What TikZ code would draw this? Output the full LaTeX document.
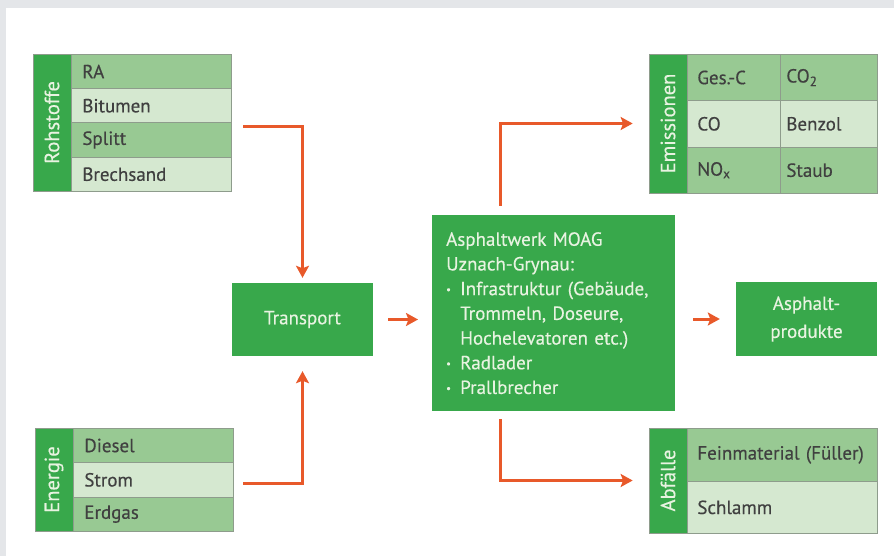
\documentclass[tikz,border=0pt]{standalone}
\usepackage{fontspec}
\setmainfont{PT Sans}[FakeBold=0.35]
\usetikzlibrary{arrows.meta}

\definecolor{framegray}{HTML}{E4E6E9}
\definecolor{deepgreen}{HTML}{38A84B}
\definecolor{midgreen}{HTML}{98C993}
\definecolor{palegreen}{HTML}{D5E8D0}
\definecolor{cellline}{HTML}{8E9C8C}
\definecolor{flow}{HTML}{E8592A}
\definecolor{boxtext}{HTML}{E8F3E1}
\definecolor{celltext}{HTML}{404040}

\begin{document}
\begin{tikzpicture}[x=1pt, y=-1pt,
    cell/.style={draw=cellline, line width=0.7pt, anchor=north west, inner ysep=0pt,
        inner xsep=11pt, align=left, text=celltext, font=\fontsize{19}{22}\selectfont},
    midcell/.style={cell, fill=midgreen},
    palecell/.style={cell, fill=palegreen},
    sidelabel/.style={draw=cellline, line width=0.7pt, fill=deepgreen, text=boxtext,
        rotate=90, inner sep=0pt, minimum height=38pt, font=\fontsize{20.5}{22}\selectfont},
    greenbox/.style={fill=deepgreen, text=boxtext, inner sep=0pt},
    flowarrow/.style={draw=flow, line width=3pt,
        -{Stealth[length=12pt, width=13pt, inset=2.5pt]}}
]
    % Define the row heights of the tables
    \def\rowR{34.25}  % Rohstoffe
    \def\rowE{34.33}  % Energie
    \def\rowM{46.33}  % Emissionen
    \def\wb{\makebox[14pt][l]{\raisebox{0.22ex}{\scalebox{0.55}{\textbullet}}}}  % bullet in the plant box

    % Frame and bounding box
    \useasboundingbox (0,0) rectangle (894,556);
    \fill[framegray] (0,0) rectangle (894,556);
    \fill[white] (6,8) rectangle (894,556);

    % Rohstoffe table
    \node[sidelabel, minimum width=137pt] (rohLabel) at (52,122.5) {Rohstoffe};
    \node[midcell, text width=138pt, minimum height=\rowR pt] (rohRA) at (71,54) {RA};
    \node[palecell, text width=138pt, minimum height=\rowR pt] (rohBitumen) at (71,54+\rowR) {Bitumen};
    \node[midcell, text width=138pt, minimum height=\rowR pt] (rohSplitt) at (71,54+2*\rowR) {Splitt};
    \node[palecell, text width=138pt, minimum height=\rowR pt] (rohBrechsand) at (71,54+3*\rowR) {Brechsand};

    % Energie table
    \node[sidelabel, minimum width=103pt] (enLabel) at (54,479.5) {Energie};
    \node[midcell, text width=138pt, minimum height=\rowE pt] (enDiesel) at (73,428) {Diesel};
    \node[palecell, text width=138pt, minimum height=\rowE pt] (enStrom) at (73,428+\rowE) {Strom};
    \node[midcell, text width=138pt, minimum height=\rowE pt] (enErdgas) at (73,428+2*\rowE) {Erdgas};

    % Transport and plant
    \node[greenbox, minimum width=141pt, minimum height=73pt, font=\fontsize{19}{22}\selectfont]
        (transport) at (302.5,319.5) {Transport};
    \node[greenbox, anchor=north west, minimum width=243pt, minimum height=196pt,
        inner xsep=14pt, text width=215pt, align=left, font=\fontsize{19}{24.7}\selectfont]
        (werk) at (432,215) {Asphaltwerk MOAG\\
        Uznach-Grynau:\\
        \wb Infrastruktur (Gebäude,\\
        \hspace*{14pt}Trommeln, Doseure,\\
        \hspace*{14pt}Hochelevatoren etc.)\\
        \wb Radlader\\
        \wb Prallbrecher};
    \node[greenbox, minimum width=141pt, minimum height=74pt, align=center,
        font=\fontsize{19}{28}\selectfont] (produkte) at (806.5,319) {Asphalt-\\produkte};

    % Emissionen table
    \node[sidelabel, minimum width=139pt] (emisLabel) at (668,123.5) {Emissionen};
    \node[midcell, text width=73pt, inner xsep=10pt, minimum height=\rowM pt] (emisGesC) at (687,54) {Ges.-C};
    \node[midcell, text width=85pt, inner xsep=6pt, minimum height=\rowM pt] (emisCOzwei) at (780,54) {CO\textsubscript{2}};
    \node[palecell, text width=73pt, inner xsep=10pt, minimum height=\rowM pt] (emisCO) at (687,54+\rowM) {CO};
    \node[palecell, text width=85pt, inner xsep=6pt, minimum height=\rowM pt] (emisBenzol) at (780,54+\rowM) {Benzol};
    \node[midcell, text width=73pt, inner xsep=10pt, minimum height=\rowM pt] (emisNOx) at (687,54+2*\rowM) {NO\textsubscript{x}};
    \node[midcell, text width=85pt, inner xsep=6pt, minimum height=\rowM pt] (emisStaub) at (780,54+2*\rowM) {Staub};

    % Abfaelle table
    \node[sidelabel, minimum width=105pt] (abfLabel) at (668,480.5) {Abfälle};
    \node[midcell, text width=170pt, inner xsep=10pt, minimum height=53pt] (abfFein) at (687,428) {Feinmaterial (Füller)};
    \node[palecell, text width=170pt, inner xsep=10pt, minimum height=52pt] (abfSchlamm) at (687,481) {Schlamm};

    % Flow arrows
    \coordinate (rohOut) at (243,127);
    \coordinate (enOut) at (243,483);
    \coordinate (werkLine) at (500,0);
    \draw[flowarrow, shorten >=5pt] (rohOut) -| (transport);
    \draw[flowarrow, shorten >=15pt] (enOut) -| (transport);
    \draw[flowarrow, shorten <=15pt, shorten >=14pt] (transport.east) -- (transport.east -| werk.west);
    \draw[flowarrow, shorten <=9pt, shorten >=16pt] (werk.north -| werkLine) |- (emisLabel);
    \draw[flowarrow, shorten <=8pt, shorten >=16pt] (werk.south -| werkLine) |- (abfLabel);
    \draw[flowarrow, shorten <=18pt, shorten >=16pt] (produkte.west -| werk.east) -- (produkte);
\end{tikzpicture}
\end{document}
